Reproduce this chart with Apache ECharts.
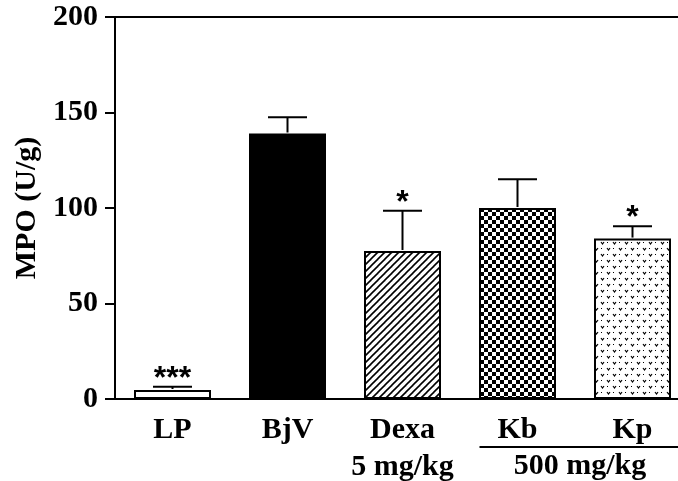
<!DOCTYPE html>
<html>
<head>
<meta charset="utf-8">
<script src="https://cdn.jsdelivr.net/npm/echarts@6/dist/echarts.min.js"></script>
<style>html,body{margin:0;padding:0;background:#fff}#c{width:678px;height:481px}</style>
</head>
<body>
<div id="c"></div>
<script>
const categories = ['LP', 'BjV', 'Dexa\n5 mg/kg', 'Kb', 'Kp'];
const values = [4.7, 139, 77.5, 100, 84];
const errors = [1.7, 8.5, 21, 15, 6.5];
const stars = ['***', '', '*', '', '*'];
const groupLabel = '500 mg/kg';
const groupMembers = [3, 4];
const yTicks = { min: 0, max: 200, interval: 50 };

function tile(w, h, draw) {
  const c = document.createElement('canvas');
  c.width = w; c.height = h;
  const g = c.getContext('2d');
  g.fillStyle = '#fff'; g.fillRect(0, 0, w, h);
  g.fillStyle = '#000'; g.strokeStyle = '#000';
  draw(g, w, h);
  return { image: c, repeat: 'repeat' };
}
const stripes = tile(7, 7, (g, w, h) => {
  g.lineWidth = 1.6;
  for (let k = -1; k <= 1; k++) {
    g.beginPath(); g.moveTo(-1 + k * w, h + 1); g.lineTo(w + 1 + k * w, -1); g.stroke();
  }
});
const checker = tile(8, 8, (g) => { g.fillRect(0, 0, 4, 4); g.fillRect(4, 4, 4, 4); });
const vees = tile(12, 12, (g) => {
  g.lineWidth = 1.2;
  const v = (x, y) => { g.beginPath(); g.moveTo(x, y); g.lineTo(x + 1.5, y + 2); g.lineTo(x + 3, y); g.stroke(); };
  v(1, 2); v(7, 8);
  g.fillRect(7, 2, 1, 1); g.fillRect(1, 8, 1, 1);
});
const fills = ['#fff', '#000', stripes, checker, vees];

const chart = echarts.init(document.getElementById('c'), null, { renderer: 'canvas' });
const font = 'Liberation Serif';
chart.setOption({
  animation: false,
  grid: { left: 115, top: 17, right: -12, bottom: 82, containLabel: false, outerBoundsMode: 'none' },
  xAxis: [{
    type: 'category', data: categories, position: 'bottom',
    axisLine: { lineStyle: { color: '#000', width: 2 } },
    axisTick: { alignWithLabel: true, interval: 0, length: 9, lineStyle: { color: '#000', width: 2 } },
    axisLabel: { interval: 0, color: '#000', fontFamily: font, fontWeight: 'bold', fontSize: 30, margin: 13, lineHeight: 37 }
  }, {
    type: 'category', data: categories, position: 'top',
    axisLine: { lineStyle: { color: '#000', width: 2 } },
    axisTick: { show: false }, axisLabel: { show: false }
  }],
  yAxis: {
    type: 'value', min: yTicks.min, max: yTicks.max, interval: yTicks.interval,
    name: 'MPO (U/g)', nameLocation: 'middle', nameGap: 71,
    nameTextStyle: { color: '#000', fontFamily: font, fontWeight: 'bold', fontSize: 30 },
    splitLine: { show: false },
    axisLine: { show: true, lineStyle: { color: '#000', width: 2 } },
    axisTick: { show: true, length: 10, lineStyle: { color: '#000', width: 2 } },
    axisLabel: { color: '#000', fontFamily: font, fontWeight: 'bold', fontSize: 30, margin: 17 }
  },
  series: [{
    type: 'bar', barWidth: 77,
    data: values.map((v, i) => ({ value: v, itemStyle: { color: fills[i], borderColor: '#000', borderWidth: 2 } }))
  }, {
    type: 'custom', z: 5,
    data: values.map((v, i) => [i, v, errors[i]]),
    renderItem: (params, api) => {
      const i = api.value(0), v = api.value(1), e = api.value(2);
      const base = api.coord([i, v]);
      const top = api.coord([i, v + e]);
      const hw = 19.5;
      const children = [
        { type: 'line', shape: { x1: base[0], y1: base[1] - 1, x2: top[0], y2: top[1] }, style: { stroke: '#000', lineWidth: 2 } },
        { type: 'line', shape: { x1: top[0] - hw, y1: top[1], x2: top[0] + hw, y2: top[1] }, style: { stroke: '#000', lineWidth: 2 } }
      ];
      if (stars[i]) {
        children.push({ type: 'text', x: top[0], y: top[1] + 8,
          style: { text: stars[i], fill: '#000', font: 'bold 32px "Liberation Sans"', align: 'center', verticalAlign: 'bottom' } });
      }
      return { type: 'group', children };
    }
  }]
});

const a = chart.convertToPixel({ xAxisIndex: 0, yAxisIndex: 0 }, [groupMembers[0], 0]);
const b = chart.convertToPixel({ xAxisIndex: 0, yAxisIndex: 0 }, [groupMembers[1], 0]);
const x1 = a[0] - 38, x2 = b[0] + 48, ly = a[1] + 48;
chart.setOption({
  graphic: [
    { type: 'line', shape: { x1, y1: ly, x2, y2: ly }, style: { stroke: '#000', lineWidth: 2 } },
    { type: 'text', x: (x1 + x2) / 2, y: ly + 19,
      style: { text: groupLabel, fill: '#000', font: 'bold 30px "Liberation Serif"', align: 'center', verticalAlign: 'middle' } }
  ]
});
</script>
</body>
</html>
